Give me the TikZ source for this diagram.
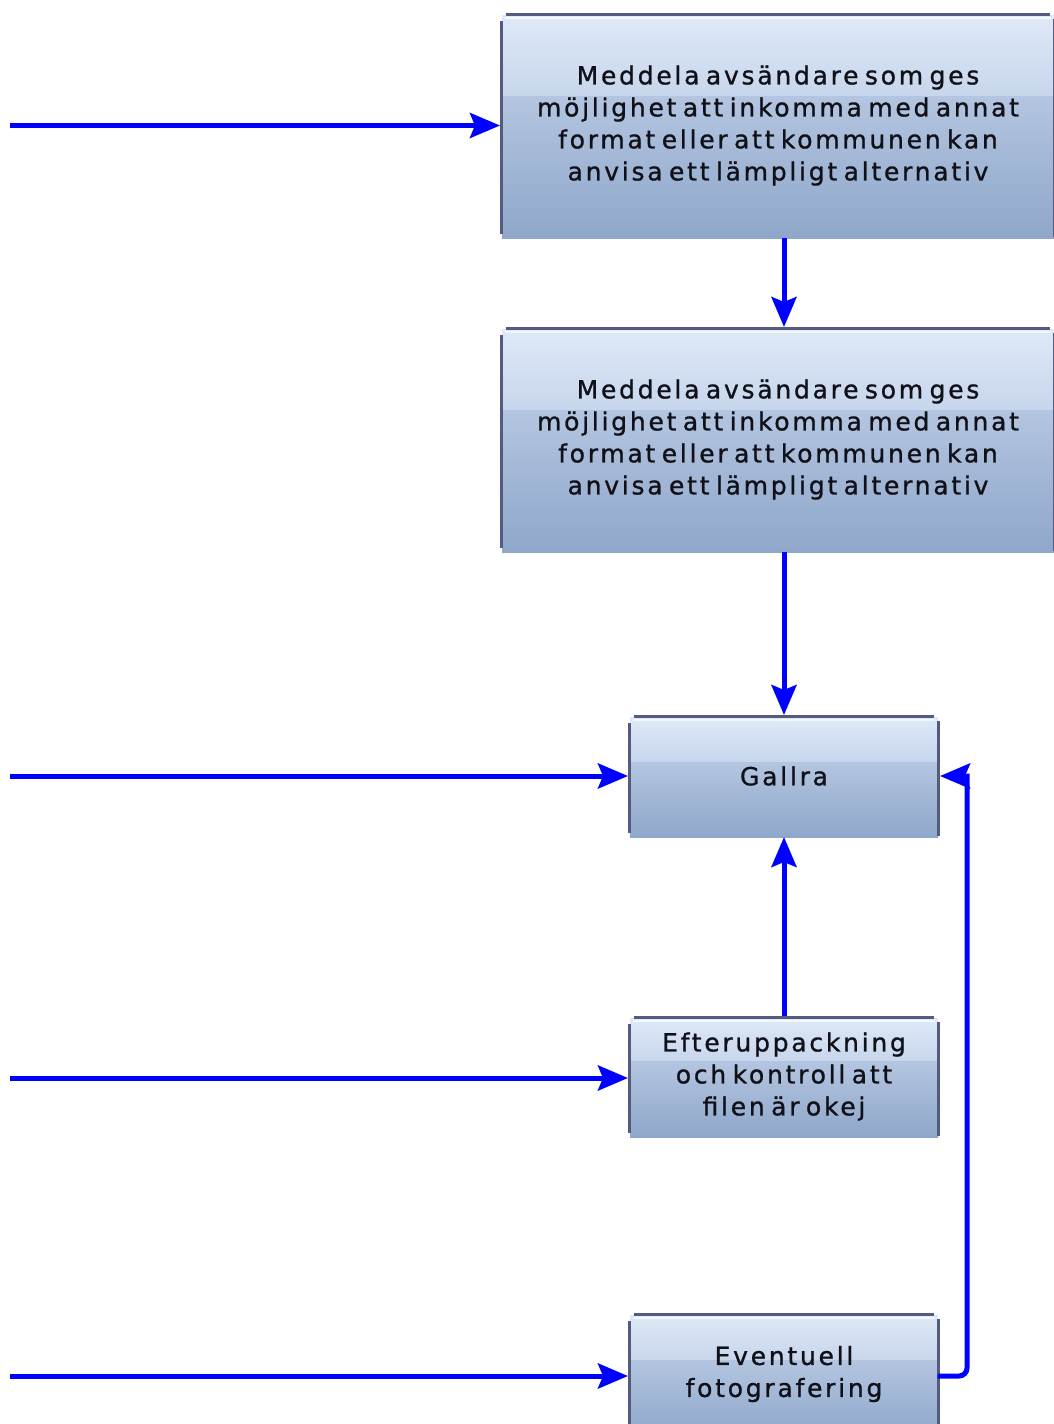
\documentclass[tikz,border=0pt]{standalone}
\usepackage{fontspec}
\newfontfamily\boxfont{DejaVu Sans}[LetterSpace=11,WordSpace=0.6,FakeBold=1]
\usetikzlibrary{arrows.meta,calc}
\pgfdeclarelayer{background}
\pgfsetlayers{background,main}
\definecolor{gtop}{HTML}{DFE9F8}
\definecolor{gmid}{HTML}{C7D6EC}
\definecolor{gmidb}{HTML}{B3C5E0}
\definecolor{gbot}{HTML}{8FA7CA}
\definecolor{bordc}{HTML}{555A80}
\definecolor{arrc}{HTML}{0000FF}
\definecolor{txtc}{HTML}{101018}
\newcommand\glossbox[2]{%
 \begin{pgfonlayer}{background}
 \shade[top color=gtop,bottom color=gmid] ($(#1.north west)+(2,2)$) rectangle ($(#1.north east)!#2!(#1.south east)+(-2,0)$);
 \shade[top color=gmidb,bottom color=gbot] ($(#1.north west)!#2!(#1.south west)+(2,0)$) rectangle ($(#1.south east)+(-2,0)$);
 \draw[white,opacity=.7,line width=2] ($(#1.north west)+(5,5)$) -- ($(#1.north east)+(-5,5)$);
 \draw[bordc,line width=3.5] ($(#1.north west)+(6,1.5)$) -- ($(#1.north east)+(-6,1.5)$);
 \draw[bordc,line width=3.5] ($(#1.north west)+(1.5,8)$) -- ($(#1.south west)+(1.5,-4)$);
 \draw[bordc,line width=3.5] ($(#1.north east)+(-1.5,6)$) -- ($(#1.south east)+(-1.5,-1)$);
 \end{pgfonlayer}}
\tikzset{
 pbox/.style={inner sep=0pt,outer sep=0pt,align=center,text=txtc,
   font=\boxfont\fontsize{25}{32}\selectfont},
 arrline/.style={draw=arrc,line width=5pt},
 arr/.style={arrline,-{Stealth[length=30pt,width=25pt,inset=5pt]}}
}
\begin{document}
\begin{tikzpicture}[x=1pt,y=-1pt]
\useasboundingbox (0,0) rectangle (1054,1424);
\clip (0,0) rectangle (1054,1424);
\node[pbox,minimum width=556pt,minimum height=225pt] (m1) at (778,125.5)
 {Meddela avsändare som ges\\möjlighet att inkomma med annat\\format eller att kommunen kan\\anvisa ett lämpligt alternativ};
\node[pbox,minimum width=556pt,minimum height=225pt] (m2) at (778,439.5)
 {Meddela avsändare som ges\\möjlighet att inkomma med annat\\format eller att kommunen kan\\anvisa ett lämpligt alternativ};
\node[pbox,minimum width=312pt,minimum height=122pt] (gallra) at (784,776) {Gallra};
\node[pbox,minimum width=312pt,minimum height=121pt] (efter) at (784,1076.5)
 {Efteruppackning\\och kontroll att\\filen är okej};
\node[pbox,minimum width=312pt,minimum height=122pt] (ev) at (784,1374)
 {Eventuell\\fotografering};
\glossbox{m1}{0.37}
\glossbox{m2}{0.37}
\glossbox{gallra}{0.39}
\glossbox{efter}{0.38}
\glossbox{ev}{0.39}
\coordinate (s1) at (10,125.5);
\coordinate (s2) at (10,776);
\coordinate (s3) at (10,1078);
\coordinate (s4) at (10,1376);
\coordinate (rc) at (967,776);
\draw[arr] (s1) -- (m1.west);
\draw[arr] (m1.south -| gallra.north) -- (m2.north -| gallra.north);
\draw[arr] (m2.south -| gallra.north) -- (gallra.north);
\draw[arr] (s2) -- (gallra.west);
\draw[arr] (efter.north) -- (gallra.south);
\draw[arr] (s3) -- (s3 -| efter.west);
\draw[arr] (s4) -- (s4 -| ev.west);
\draw[arrline,rounded corners=8pt,line cap=rect] (s4 -| ev.east) -| (rc);
\draw[arr] (rc) -- (gallra.east);
\end{tikzpicture}
\end{document}
